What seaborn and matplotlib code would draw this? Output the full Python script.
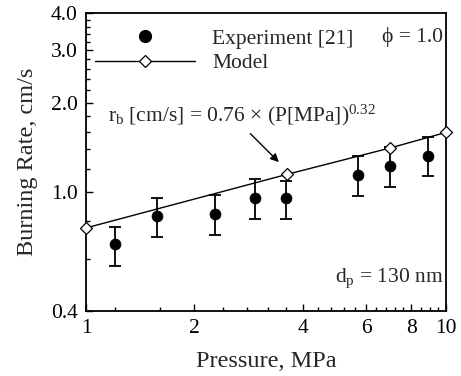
import matplotlib
matplotlib.use("Agg")
import matplotlib.pyplot as plt
import matplotlib.ticker as mticker
from matplotlib.lines import Line2D
import pandas as pd
import seaborn as sns

# experiment [21]
p_exp = [1.2, 1.57, 2.28, 2.95, 3.6, 5.7, 7.0, 8.9]
rb_exp = [0.67, 0.835, 0.845, 0.96, 0.96, 1.14, 1.23, 1.33]
rb_low = [0.567, 0.708, 0.719, 0.814, 0.814, 0.970, 1.044, 1.133]
rb_high = [0.768, 0.960, 0.983, 1.105, 1.096, 1.323, 1.42, 1.533]

# model points
p_model = [1.0, 3.62, 7.0, 10.0]
rb_model = [0.76, 1.15, 1.41, 1.59]

x_ticks = [1, 2, 4, 6, 8, 10]
x_labels = ["1", "2", "4", "6", "8", "10"]
y_ticks = [0.4, 1.0, 2.0, 3.0, 4.0]
y_labels = ["0.4", "1.0", "2.0", "3.0", "4.0"]

exp_df = pd.DataFrame({"P": p_exp, "rb": rb_exp, "lo": rb_low, "hi": rb_high})
model_df = pd.DataFrame({"P": p_model, "rb": rb_model})

sns.set_style("ticks")
plt.rcParams["font.family"] = ["Liberation Serif", "DejaVu Serif"]
plt.rcParams["mathtext.fontset"] = "custom"
plt.rcParams["mathtext.rm"] = "Liberation Serif"
plt.rcParams["mathtext.it"] = "Liberation Serif:italic"
fs = 15.5
fs_lab = 17.5

fig = plt.figure(figsize=(4.61, 3.76), dpi=100)
ax = fig.add_axes([0.1866, 0.1729, 0.7809, 0.7925])

ax.errorbar(exp_df["P"], exp_df["rb"],
            yerr=[exp_df["rb"] - exp_df["lo"], exp_df["hi"] - exp_df["rb"]],
            fmt="none", ecolor="black", elinewidth=1.3, capsize=4.5, capthick=1.3, zorder=2)
sns.scatterplot(data=exp_df, x="P", y="rb", color="black", s=60, edgecolor="black",
                marker="o", ax=ax, zorder=3, legend=False)
sns.lineplot(data=model_df, x="P", y="rb", color="black", linewidth=1.0, marker="D",
             markersize=6, markerfacecolor="white", markeredgecolor="black",
             markeredgewidth=0.9, ax=ax, zorder=4, legend=False, clip_on=False)

ax.set_xscale("log")
ax.set_yscale("log")
ax.set_xlim(1, 10)
ax.set_ylim(0.4, 4.0)

ax.xaxis.set_major_locator(mticker.FixedLocator(x_ticks))
ax.xaxis.set_major_formatter(mticker.FixedFormatter(x_labels))
ax.xaxis.set_minor_locator(mticker.FixedLocator(
    [1.2, 1.6, 2.4, 2.8, 3.2, 3.6, 4.4, 4.8, 5.2, 5.6, 6.4, 6.8, 7.2, 7.6, 8.5, 9.0, 9.5]))
ax.xaxis.set_minor_formatter(mticker.NullFormatter())
ax.yaxis.set_major_locator(mticker.FixedLocator(y_ticks))
ax.yaxis.set_major_formatter(mticker.FixedFormatter(y_labels))
ax.yaxis.set_minor_locator(mticker.FixedLocator(
    [0.6, 0.8, 1.2, 1.4, 1.6, 1.8, 2.2, 2.4, 2.6, 2.8, 3.2, 3.4, 3.6, 3.8]))
ax.yaxis.set_minor_formatter(mticker.NullFormatter())

ax.tick_params(which="both", direction="in", top=False, right=False,
               labelsize=fs, colors="black", width=1.0)
ax.tick_params(which="major", length=5, pad=6)
ax.tick_params(which="minor", length=3)
for s in ax.spines.values():
    s.set_linewidth(1.3)
    s.set_color("black")

ax.set_xlabel("Pressure, MPa", fontsize=fs_lab, labelpad=9)
ax.set_ylabel("Burning Rate, cm/s", fontsize=fs_lab, labelpad=9)

handles = [
    Line2D([], [], color="black", marker="o", linestyle="none", markersize=8.5),
    Line2D([], [], color="black", marker="D", markersize=6, markerfacecolor="white",
           markeredgewidth=0.9, linewidth=1.0),
]
ax.legend(handles, ["Experiment [21]", "Model"], loc="upper left", frameon=False,
          fontsize=fs, handlelength=4.65, handletextpad=0.8, labelspacing=0.22,
          borderpad=0, borderaxespad=0, bbox_to_anchor=(0.025, 0.948))

ax.text(0.992, 0.919, "\u03d5 = 1.0", transform=ax.transAxes, ha="right", va="center",
        fontsize=fs)
ax.text(0.992, 0.111, r"d$_\mathrm{p}$ = 130 nm", transform=ax.transAxes, ha="right",
        va="center", fontsize=fs)
ax.text(2.71, 1.82, r"r$_\mathrm{b}$ [cm/s] = 0.76 $\times$ (P[MPa])$^{0.32}$",
        ha="center", va="center", fontsize=fs)
ax.annotate("", xy=(3.475, 1.245), xytext=(2.825, 1.599),
            arrowprops=dict(arrowstyle="-|>", color="black", lw=1.0, mutation_scale=12))

fig.savefig("out.png", dpi=100)
